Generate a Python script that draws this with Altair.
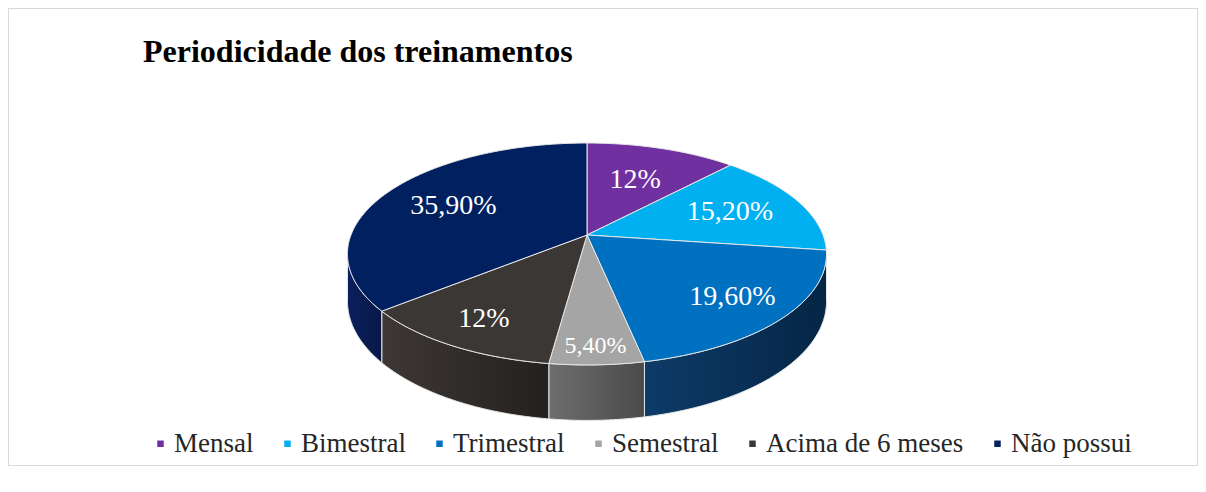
import numpy as np
import pandas as pd
import altair as alt

# ---- data ----
categories = ["Mensal", "Bimestral", "Trimestral", "Semestral", "Acima de 6 meses", "Não possui"]
values = [12.0, 15.2, 19.6, 5.4, 12.0, 35.9]
value_labels = ["12%", "15,20%", "19,60%", "5,40%", "12%", "35,90%"]
title_text = "Periodicidade dos treinamentos"

# ---- styles ----
top_colors = ["#7030A0", "#00B0F0", "#0070C0", "#A5A5A5", "#3B3735", "#002060"]
side_left_colors = ["#4A1F6C", "#0078A8", "#0D3B68", "#6E6E6E", "#3D3836", "#0B1F5E"]
side_right_colors = ["#3A1656", "#005A80", "#052645", "#4A4A4A", "#24201E", "#081848"]

# ---- layout / geometry of the 3-D pie (plot pixels) ----
W, H = 1190, 458
CX, CY = 579.0, 227.0          # pie apex
RX, RY = 236.0, 107.7          # radii of the top face
P = 0.171                      # perspective factor
DEPTH = 46.0                   # thickness of the pie

tot = sum(values)
cum = np.cumsum([0.0] + values)
starts = cum[:-1] / tot * 360.0
ends = cum[1:] / tot * 360.0


def rim(t_deg, f=1.0, drop=0.0):
    t = np.deg2rad(t_deg)
    u = f * np.sin(t)
    v = f * np.cos(t)
    s = 1.0 / (1.0 + P * v)
    return CX + RX * u * s, CY - RY * v * s + drop * s


# top faces
top_rows = []
for i, c in enumerate(categories):
    a, b = starts[i], ends[i]
    n = max(4, int((b - a) * 2))
    pts = [(CX, CY)] + [rim(t) for t in np.linspace(a, b, n)]
    for k, (x, y) in enumerate(pts):
        top_rows.append({"cat": c, "x": x, "y": y, "k": k})
top_df = pd.DataFrame(top_rows)

# visible side walls
TL = np.rad2deg(np.arccos(-P))
TR = 360.0 - TL
side_layers = []
xs = alt.Scale(domain=[0, W], nice=False, zero=False)
ys = alt.Scale(domain=[0, H], nice=False, zero=False, reverse=True)
for i, c in enumerate(categories):
    lo, hi = max(starts[i], TL), min(ends[i], TR)
    if hi <= lo:
        continue
    n = max(4, int((hi - lo) * 2))
    ts = np.linspace(lo, hi, n)
    pts = [rim(t) for t in ts] + [rim(t, drop=DEPTH) for t in ts[::-1]]
    df = pd.DataFrame([{"cat": c, "x": x, "y": y, "k": k} for k, (x, y) in enumerate(pts)])
    grad = alt.Gradient(
        gradient="linear", x1=0, x2=1, y1=0, y2=0,
        stops=[alt.GradientStop(color=side_left_colors[i], offset=0),
               alt.GradientStop(color=side_right_colors[i], offset=1)],
    )
    side_layers.append(
        alt.Chart(df).mark_line(interpolate="linear-closed", fill=grad, stroke="#E8E8E8", strokeWidth=1)
        .encode(x=alt.X("x:Q", scale=xs, axis=None), y=alt.Y("y:Q", scale=ys, axis=None), order="k:Q")
    )

top = alt.Chart(top_df).mark_line(interpolate="linear-closed", stroke="#E8E8E8", strokeWidth=1).encode(
    x=alt.X("x:Q", scale=xs, axis=None),
    y=alt.Y("y:Q", scale=ys, axis=None),
    order="k:Q",
    fill=alt.Fill(
        "cat:N",
        scale=alt.Scale(domain=categories, range=top_colors),
        sort=categories,
        legend=alt.Legend(
            orient="none", legendX=139, legendY=422, direction="horizontal", title=None,
            symbolType="square", symbolSize=42, symbolStrokeWidth=0,
            labelFont="Liberation Serif", labelFontSize=27, labelColor="#262626",
            labelOffset=0, columnPadding=20, padding=0, labelLimit=0,
        ),
    ),
)

# data labels
lab_rows = []
for i, c in enumerate(categories):
    mid = (starts[i] + ends[i]) / 2.0
    f = 0.7 - 0.1 * np.cos(np.deg2rad(mid)) + (0.08 if values[i] < 10 else 0.0)
    x, y = rim(mid, f=f)
    lab_rows.append({"cat": c, "value": values[i], "label": value_labels[i], "lx": x, "ly": y})
lab_df = pd.DataFrame(lab_rows)

labels = alt.Chart(lab_df).mark_text(
    font="Liberation Serif", color="white", align="center", baseline="middle"
).encode(
    x=alt.X("lx:Q", scale=xs, axis=None),
    y=alt.Y("ly:Q", scale=ys, axis=None),
    text="label:N",
    size=alt.condition("datum.value < 10", alt.value(24), alt.value(28)),
)

title = alt.Chart(pd.DataFrame({"t": [title_text]})).mark_text(
    font="Liberation Serif", fontSize=32, fontWeight="bold", color="#000000",
    align="left", baseline="alphabetic"
).encode(x=alt.value(135), y=alt.value(54), text="t:N")

chart = alt.layer(*side_layers, top, labels, title).properties(
    width=W, height=H, padding=0
).configure_view(stroke="#D9D9D9", strokeWidth=2)

chart.save("out.html", embed_options={"renderer": "svg", "actions": False})
